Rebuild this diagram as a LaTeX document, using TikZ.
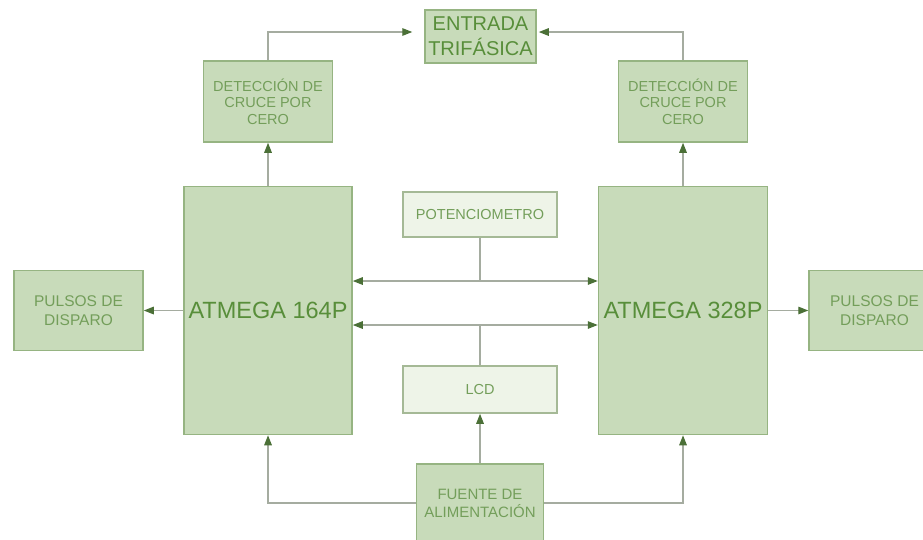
\documentclass[tikz,border=0pt]{standalone}
\usepackage{fontspec}
\setmainfont{Liberation Sans}
\usetikzlibrary{arrows.meta}
\definecolor{boxfill}{RGB}{200,219,186}
\definecolor{boxdraw}{RGB}{150,180,130}
\definecolor{lightfill}{RGB}{238,244,232}
\definecolor{lightdraw}{RGB}{165,185,150}
\definecolor{textdark}{RGB}{88,142,58}
\definecolor{textlight}{RGB}{115,158,90}
\definecolor{linegray}{RGB}{165,172,160}
\definecolor{tipgreen}{RGB}{75,112,55}
\tikzset{
  blk/.style={draw=boxdraw, fill=boxfill, line width=1.5pt, inner sep=0pt, align=center, text=textlight},
  lblk/.style={draw=lightdraw, fill=lightfill, line width=1.5pt, inner sep=0pt, align=center, text=textlight},
  conn/.style={draw=linegray, line width=1.4pt},
  arr/.style={conn, -{Triangle[length=10pt,width=7.5pt,color=tipgreen]}},
  darr/.style={conn, {Triangle[length=10pt,width=7.5pt,color=tipgreen]}-{Triangle[length=10pt,width=7.5pt,color=tipgreen]}},
}
\begin{document}
\begin{tikzpicture}[x=1pt,y=-1pt]
\useasboundingbox (0,0) rectangle (923,539);
\clip (0,0) rectangle (923,539);
\fill[white] (0,0) rectangle (923,539);

\node[blk, minimum width=111pt, minimum height=53pt, text=textdark,
      font=\fontsize{20}{25}\selectfont] (ent) at (480.5,36.5) {ENTRADA\\TRIFÁSICA};
\node[blk, minimum width=129pt, minimum height=81pt,
      font=\fontsize{14.5}{16.5}\selectfont] (detl) at (268,101.5) {DETECCIÓN DE\\CRUCE POR\\CERO};
\node[blk, minimum width=129pt, minimum height=81pt,
      font=\fontsize{14.5}{16.5}\selectfont] (detr) at (683,101.5) {DETECCIÓN DE\\CRUCE POR\\CERO};
\node[blk, minimum width=168pt, minimum height=248pt, text=textdark,
      font=\fontsize{23.5}{28}\selectfont] (atl) at (268,310.5) {ATMEGA 164P};
\node[blk, minimum width=169pt, minimum height=248pt, text=textdark,
      font=\fontsize{23.5}{28}\selectfont] (atr) at (683,310.5) {ATMEGA 328P};
\node[blk, minimum width=129pt, minimum height=80pt,
      font=\fontsize{15.5}{18.5}\selectfont] (pull) at (78.5,310.5) {PULSOS DE\\DISPARO};
\node[blk, minimum width=131pt, minimum height=80pt,
      font=\fontsize{15.5}{18.5}\selectfont] (pulr) at (874.5,310.5) {PULSOS DE\\DISPARO};
\node[lblk, minimum width=154pt, minimum height=45pt,
      font=\fontsize{14.5}{17}\selectfont] (pot) at (480,214.5) {POTENCIOMETRO};
\node[lblk, minimum width=154pt, minimum height=47pt,
      font=\fontsize{14.5}{17}\selectfont] (lcd) at (480,389.5) {LCD};
\node[blk, minimum width=127pt, minimum height=78pt,
      font=\fontsize{15}{18}\selectfont] (fue) at (480,503) {FUENTE DE\\ALIMENTACIÓN};

\coordinate (ytop) at (0,32);
\coordinate (yup) at (0,281);
\coordinate (ydn) at (0,325);

\draw[arr] (atl.north) -- (detl.south);
\draw[arr] (atr.north) -- (detr.south);
\draw[arr, shorten >=12pt] (detl.north) |- (ent.west |- ytop);
\draw[arr, shorten >=2pt] (detr.north) |- (ent.east |- ytop);
\draw[arr] (atl.west) -- (pull.east);
\draw[arr] (atr.east) -- (pulr.west);
\draw[darr] (atl.east |- yup) -- (atr.west |- yup);
\draw[darr] (atl.east |- ydn) -- (atr.west |- ydn);
\draw[conn] (pot.south) -- (pot.south |- yup);
\draw[conn] (lcd.north) -- (lcd.north |- ydn);
\draw[arr] (fue.north) -- (lcd.south);
\draw[arr] (fue.west) -| (atl.south);
\draw[arr] (fue.east) -| (atr.south);
\end{tikzpicture}
\end{document}
